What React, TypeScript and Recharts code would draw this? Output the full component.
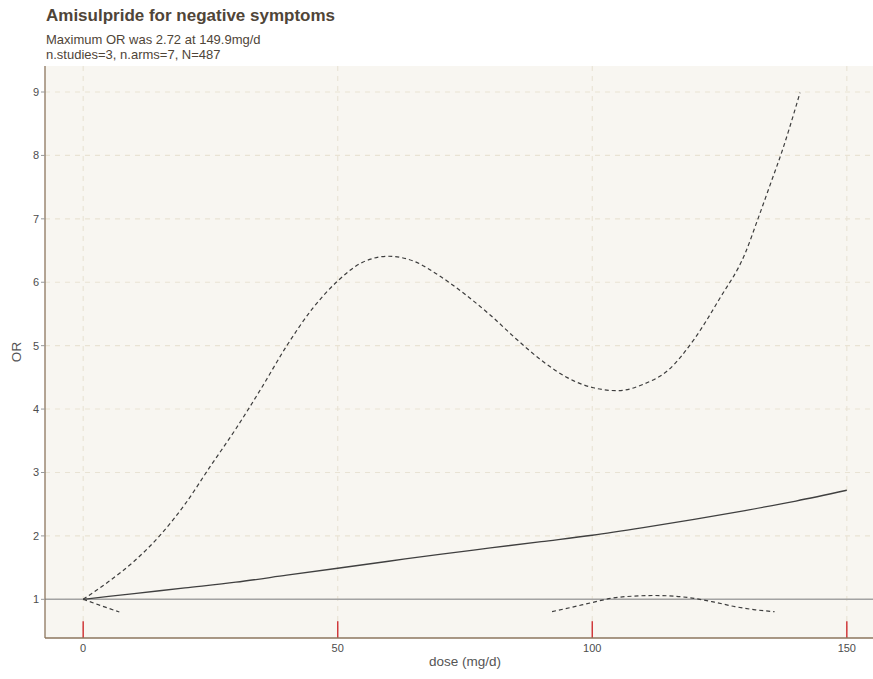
import React from "react";
import {
  LineChart,
  Line,
  XAxis,
  YAxis,
  CartesianGrid,
  ReferenceLine,
} from "recharts";

// dose-response estimate (OR) with its 95% confidence band
const estDose = [0, 10, 20, 30, 40, 50, 60, 70, 80, 90, 100, 110, 120, 130, 140, 150];
const estOR = [1, 1.09, 1.18, 1.27, 1.38, 1.49, 1.6, 1.71, 1.81, 1.91, 2.01, 2.13, 2.26, 2.4, 2.55, 2.72];

const upperDose = [
  0, 5, 10, 15, 20, 25, 30, 35, 40, 45, 50, 55, 60, 65, 70, 75, 80, 85, 90, 95, 100, 105, 110,
  115, 120, 125, 130, 132.5, 135, 137.5, 140, 140.8,
];
const upperOR = [
  1, 1.28, 1.6, 2.0, 2.5, 3.1, 3.69, 4.33, 5.0, 5.58, 6.02, 6.32, 6.41, 6.33, 6.1, 5.81, 5.48,
  5.11, 4.77, 4.5, 4.34, 4.29, 4.39, 4.62, 5.1, 5.74, 6.45, 6.99, 7.55, 8.12, 8.77, 8.99,
];

// values below 0.8 fall outside the plotted range -> gap
const lowerDose = [0, 3.5, 7.1, 50, 92.1, 96, 100, 104, 108, 112, 116, 120, 124, 128, 132, 135.8];
const lowerOR = [1, 0.9, 0.8, null, 0.806, 0.875, 0.95, 1.02, 1.05, 1.06, 1.05, 1.015, 0.955, 0.885, 0.835, 0.805];

// doses present in the included study arms
const armDoses = [0, 50, 100, 150];

const xTicks = [0, 50, 100, 150];
const yTicks = [1, 2, 3, 4, 5, 6, 7, 8, 9];

const toPoints = (doses: number[], vals: (number | null)[]) =>
  doses.map((d, i) => ({ dose: d, or: vals[i] }));

const FONT = "'Liberation Sans', Arial, sans-serif";
const INK = "#4f4538";
const TICK = { fontSize: 11, fill: "#4d4d4d", fontFamily: FONT };
const Y_MIN = 0.39;
const Y_MAX = 9.41;

export default function App() {
  const est = toPoints(estDose, estOR);
  const upper = toPoints(upperDose, upperOR);
  const lower = toPoints(lowerDose, lowerOR);

  return (
    <div
      style={{
        position: "absolute",
        left: 0,
        top: 0,
        width: 873,
        height: 679,
        overflow: "hidden",
        background: "#ffffff",
        fontFamily: FONT,
      }}
    >
      <div style={{ position: "absolute", left: 46, top: 6, fontSize: 17, fontWeight: 700, color: INK }}>
        Amisulpride for negative symptoms
      </div>
      <div style={{ position: "absolute", left: 46, top: 33, fontSize: 13, lineHeight: "14.5px", color: INK }}>
        Maximum OR was 2.72 at 149.9mg/d
        <br />
        n.studies=3, n.arms=7, N=487
      </div>
      <div
        style={{
          position: "absolute",
          left: 16,
          top: 352,
          fontSize: 13.5,
          color: "#555",
          transform: "translate(-50%, -50%) rotate(-90deg)",
        }}
      >
        OR
      </div>
      <div
        style={{
          position: "absolute",
          left: 465,
          top: 661,
          fontSize: 13.5,
          color: "#555",
          transform: "translate(-50%, -50%)",
          whiteSpace: "nowrap",
        }}
      >
        dose (mg/d)
      </div>

      <LineChart width={900} height={679} margin={{ top: 66, right: 15, bottom: 11, left: 0 }}>
        <CartesianGrid
          fill="#f8f6f1"
          fillOpacity={1}
          stroke="#e9e3d4"
          strokeDasharray="5 5"
          strokeWidth={1.1}
          horizontalValues={yTicks}
          verticalValues={xTicks}
        />
        <XAxis
          dataKey="dose"
          type="number"
          domain={[-7.5, 157.5]}
          ticks={xTicks}
          allowDataOverflow
          height={30}
          tick={TICK}
          tickSize={4}
          tickMargin={2}
          tickLine={false}
          axisLine={{ stroke: "#8c765e", strokeWidth: 1.3 }}
        />
        <YAxis
          type="number"
          domain={[Y_MIN, Y_MAX]}
          ticks={yTicks}
          allowDataOverflow
          width={45}
          tick={TICK}
          tickSize={4}
          tickMargin={2}
          tickLine={{ stroke: "#999" }}
          axisLine={{ stroke: "#8c765e", strokeWidth: 1.3 }}
        />
        <ReferenceLine y={1} stroke="#a3a3a3" strokeWidth={1.4} />
        {armDoses.map((d) => (
          <ReferenceLine
            key={d}
            segment={[
              { x: d, y: Y_MIN },
              { x: d, y: 0.655 },
            ]}
            stroke="#d0393b"
            strokeWidth={1.5}
          />
        ))}
        <Line
          data={upper}
          dataKey="or"
          type="monotone"
          stroke="#3d3d3d"
          strokeWidth={1.2}
          strokeDasharray="4 3"
          dot={false}
          isAnimationActive={false}
        />
        <Line
          data={lower}
          dataKey="or"
          type="monotone"
          stroke="#3d3d3d"
          strokeWidth={1.2}
          strokeDasharray="4 3"
          dot={false}
          connectNulls={false}
          isAnimationActive={false}
        />
        <Line
          data={est}
          dataKey="or"
          type="monotone"
          stroke="#404040"
          strokeWidth={1.3}
          dot={false}
          isAnimationActive={false}
        />
      </LineChart>
    </div>
  );
}
